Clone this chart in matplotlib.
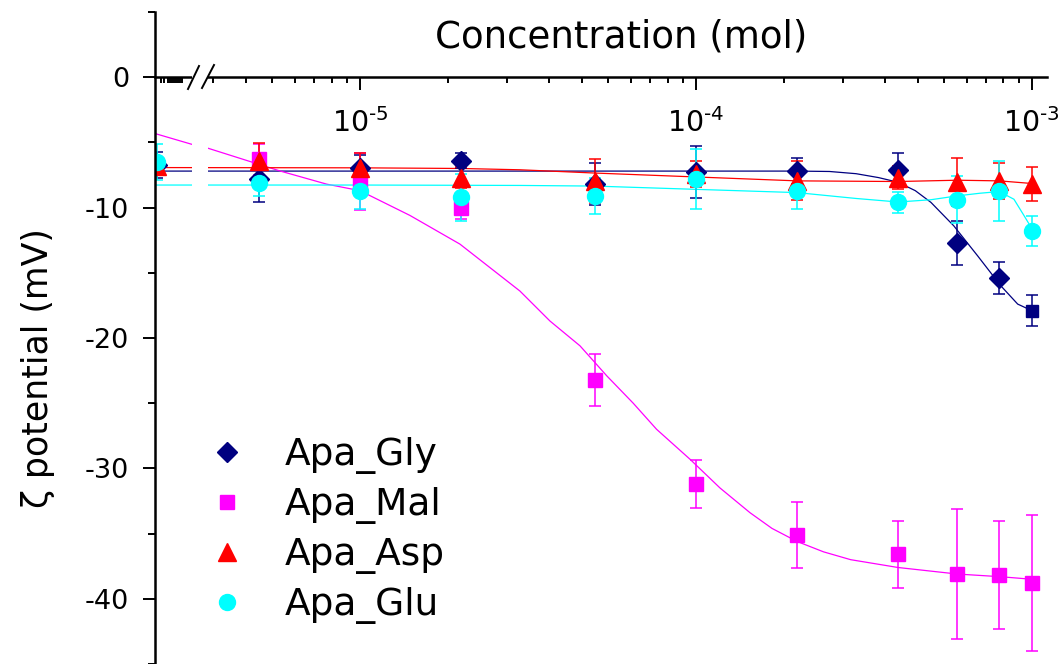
import numpy as np
import matplotlib
matplotlib.use("Agg")
import matplotlib.pyplot as plt
from matplotlib.lines import Line2D
from matplotlib.patches import Rectangle
from matplotlib.ticker import FixedLocator, NullFormatter, FixedFormatter

plt.rcParams['font.family'] = ['DejaVu Sans']
plt.rcParams['mathtext.fontset'] = 'dejavusans'

# ---------------- data ----------------
conc = [2.49e-6, 5e-6, 1e-5, 2e-5, 5e-5, 1e-4, 2e-4, 4e-4, 6e-4, 8e-4, 1e-3]

gly = [-6.7, -7.8, -7.0, -6.4, -8.2, -7.3, -7.2, -7.1, -12.7, -15.4, -17.9]
gly_err = [1.0, 1.8, 1.0, 0.6, 1.6, 2.0, 1.0, 1.25, 1.7, 1.25, 1.2]

mal_conc = [5e-6, 1e-5, 2e-5, 5e-5, 1e-4, 2e-4, 4e-4, 6e-4, 8e-4, 1e-3]
mal = [-6.3, -8.0, -10.0, -23.2, -31.2, -35.1, -36.6, -38.1, -38.2, -38.8]
mal_err = [1.2, 2.2, 0.9, 2.0, 1.85, 2.5, 2.55, 5.0, 4.15, 5.2]

asp = [-6.8, -6.45, -7.0, -7.7, -7.95, -7.45, -7.95, -7.7, -8.05, -7.95, -8.2]
asp_err = [0.5, 1.4, 1.2, 0.8, 1.7, 1.0, 1.5, 0.9, 1.85, 1.4, 1.3]

glu = [-6.5, -8.1, -8.7, -9.2, -9.1, -7.8, -8.75, -9.6, -9.4, -8.7, -11.8]
glu_err = [1.35, 1.0, 1.4, 1.8, 1.4, 2.3, 1.35, 0.8, 1.8, 2.3, 1.15]

# fitted curves
gly_fit_x = [2.455e-6, 1e-5, 1e-4, 2.0e-4, 2.5e-4, 3.0e-4, 3.5e-4, 3.99e-4,
             4.5e-4, 5.01e-4, 5.86e-4, 6.90e-4, 8.09e-4, 9.08e-4, 1e-3]
gly_fit_y = [-7.2, -7.2, -7.2, -7.2, -7.23, -7.4, -7.7, -8.05, -8.7, -9.6,
             -11.4, -13.7, -16.0, -17.4, -17.9]
asp_fit_x = [2.455e-6, 1e-5, 2e-5, 3e-5, 5e-5, 1e-4, 2e-4, 4e-4, 6e-4, 8e-4, 1e-3]
asp_fit_y = [-6.93, -6.95, -7.0, -7.1, -7.35, -7.65, -7.95, -8.0, -7.9, -7.95, -8.15]
glu_fit_x = [2.455e-6, 1e-5, 3e-5, 5e-5, 1e-4, 2e-4, 3e-4, 4e-4, 5e-4, 6e-4,
             7e-4, 8e-4, 8.85e-4, 9.475e-4, 1e-3]
glu_fit_y = [-8.27, -8.27, -8.3, -8.35, -8.6, -8.85, -9.3, -9.57, -9.4, -9.1,
             -8.9, -8.77, -9.36, -10.6, -11.6]
mal_fit_x = [2.455e-6, 3.153e-6, 3.534e-6, 5.78e-6, 7.96e-6, 1e-5, 1.409e-5,
             1.985e-5, 2.438e-5, 2.995e-5, 3.68e-5, 4.52e-5, 5.43e-5, 6.51e-5,
             7.64e-5, 9.61e-5, 1.18e-4, 1.45e-4, 1.685e-4, 2e-4, 2.4e-4,
             2.89e-4, 4e-4, 6e-4, 8e-4, 1e-3]
mal_fit_y = [-4.32, -5.14, -5.45, -7.19, -8.2, -8.7, -10.6, -12.8, -14.6, -16.4,
             -18.7, -20.6, -22.9, -25.0, -27.0, -29.3, -31.5, -33.4, -34.6,
             -35.6, -36.4, -37.0, -37.6, -38.1, -38.3, -38.5]

labels = ['Apa_Gly', 'Apa_Mal', 'Apa_Asp', 'Apa_Glu']
colors = ['#000080', '#FF00FF', '#FF0000', '#00FFFF']

x_major = [1e-5, 1e-4, 1e-3]
x_major_labels = [r'$10^{\text{-}5}$', r'$10^{\text{-}4}$', r'$10^{\text{-}3}$']
y_major = [0, -10, -20, -30, -40]
y_major_labels = ['0', '-10', '-20', '-30', '-40']

# ---------------- figure ----------------
W, H = 1061, 664
fig = plt.figure(figsize=(W / 100, H / 100), dpi=100)
ax = fig.add_axes([155 / W, 0, (1047 - 155) / W, (664 - 12) / H])

ax.set_xscale('log')
ax.set_xlim(2.455e-6, 1.11e-3)
ax.set_ylim(-45, 5)

# fit lines
fit_lw = 0.9
ax.plot(gly_fit_x, gly_fit_y, color=colors[0], lw=fit_lw, zorder=1.5)
ax.plot(mal_fit_x, mal_fit_y, color=colors[1], lw=fit_lw, zorder=1.5)
ax.plot(asp_fit_x, asp_fit_y, color=colors[2], lw=fit_lw, zorder=1.5)
ax.plot(glu_fit_x, glu_fit_y, color=colors[3], lw=fit_lw, zorder=1.5)

ekw = dict(elinewidth=1.1, capsize=4.5, capthick=1.1, linestyle='none')
# Gly: diamonds, last point square
ax.errorbar(conc[:-1], gly[:-1], yerr=gly_err[:-1], fmt='D', ms=9.7,
            color=colors[0], **ekw)
ax.errorbar(conc[-1:], gly[-1:], yerr=gly_err[-1:], fmt='s', ms=9.0,
            color=colors[0], **ekw)
ax.errorbar(mal_conc, mal, yerr=mal_err, fmt='s', ms=9.4, color=colors[1], **ekw)
ax.errorbar(conc, asp, yerr=asp_err, fmt='^', ms=13, color=colors[2], **ekw)
ax.errorbar(conc, glu, yerr=glu_err, fmt='o', ms=11.5, color=colors[3], **ekw)

# axes styling
for s in ['top', 'right']:
    ax.spines[s].set_visible(False)
ax.spines['bottom'].set_position(('data', 0))
ax.spines['bottom'].set_linewidth(1.8)
ax.spines['left'].set_linewidth(1.8)

ax.xaxis.set_major_locator(FixedLocator(x_major))
ax.xaxis.set_major_formatter(FixedFormatter(x_major_labels))
minor_x = [2.551e-6, 2.609e-6, 2.676e-6, 2.72e-6, 2.757e-6, 2.795e-6, 2.834e-6,
           2.873e-6, 2.912e-6, 2.952e-6]
for n in [-6, -5, -4]:
    for k in range(2, 11):
        v = k * 0.915 * 10.0 ** n
        if 3.3e-6 < v < 1.1e-3:
            minor_x.append(v)
ax.xaxis.set_minor_locator(FixedLocator(minor_x))
ax.xaxis.set_minor_formatter(NullFormatter())
ax.tick_params(axis='x', which='major', direction='out', length=9.4, width=1.4,
               labelsize=20.5, pad=13)
ax.tick_params(axis='x', which='minor', direction='out', length=4.3, width=1.4)

ax.yaxis.set_major_locator(FixedLocator(y_major))
ax.yaxis.set_minor_locator(FixedLocator([5, -5, -15, -25, -35, -45]))
ax.set_yticklabels(y_major_labels)
ax.tick_params(axis='y', which='major', direction='out', length=8.6, width=1.4,
               labelsize=19.5, pad=10)
ax.tick_params(axis='y', which='minor', direction='out', length=5, width=1.4)

# axis break
ax.add_patch(Rectangle(((192 - 155) / 892, -46), (208 - 192) / 892, 46.2,
                       transform=ax.get_yaxis_transform(), facecolor='white',
                       edgecolor='none', zorder=3, clip_on=False))
for (x1, y1, x2, y2) in [(188, 89, 199, 66), (202, 88, 214, 65)]:
    fig.add_artist(Line2D([x1 / W, x2 / W], [1 - y1 / H, 1 - y2 / H],
                          transform=fig.transFigure, color='black', lw=1.4,
                          zorder=5))

# titles
fig.text(621.5 / W, 1 - 48 / H, 'Concentration (mol)', ha='center',
         va='baseline', fontsize=26.7)
fig.text(38 / W, 1 - 368 / H, 'ζ potential (mV)', ha='center', va='center',
         rotation=90, fontsize=25)

# legend
handles = [
    Line2D([], [], linestyle='none', marker='D', ms=9.7, color=colors[0]),
    Line2D([], [], linestyle='none', marker='s', ms=9.4, color=colors[1]),
    Line2D([], [], linestyle='none', marker='^', ms=13, color=colors[2]),
    Line2D([], [], linestyle='none', marker='o', ms=11.5, color=colors[3]),
]
ax.legend(handles, labels, loc='upper left',
          bbox_to_anchor=(208 / W, 1 - 437 / H), bbox_transform=fig.transFigure,
          frameon=False, fontsize=27, handlelength=1.0, handletextpad=1.05,
          labelspacing=0.35, borderpad=0, borderaxespad=0)

fig.savefig('out.png', dpi=100)
